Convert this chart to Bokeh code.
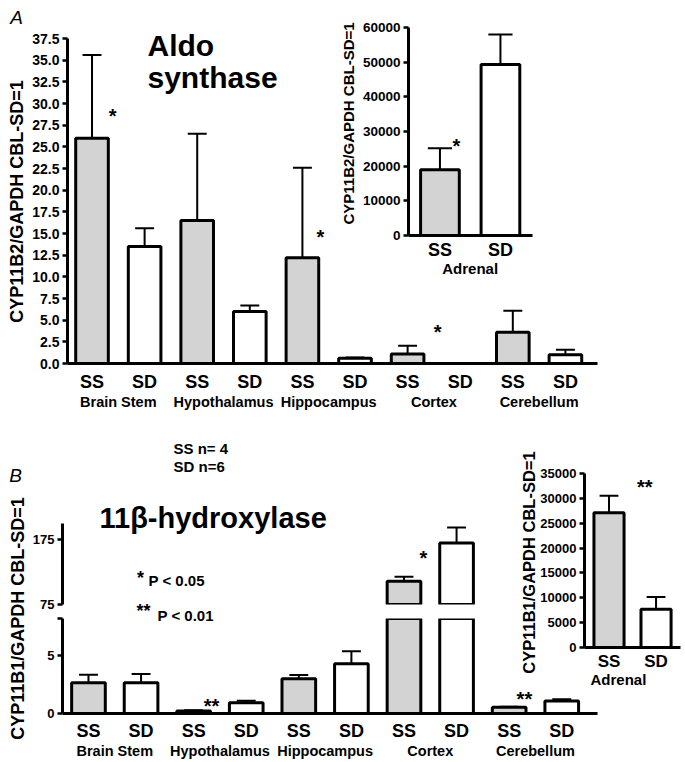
import math
from bokeh.plotting import figure
from bokeh.layouts import column
from bokeh.models import (Range1d, LinearAxis, FixedTicker, Label, ColumnDataSource,
                          NumeralTickFormatter, CDSView, BooleanFilter)
from bokeh.embed import file_html
from bokeh.resources import INLINE

FONT = "Liberation Sans"

# ---------------- data ----------------
regions = ["Brain Stem", "Hypothalamus", "Hippocampus", "Cortex", "Cerebellum"]
strains = ["SS", "SD"]

# Panel A: CYP11B2 (aldosterone synthase), order SS,SD per region
aldo_mean = [26.0, 13.5, 16.5, 6.0, 12.2, 0.6, 1.1, 0.0, 3.6, 1.0]
aldo_sem = [9.6, 2.1, 10.0, 0.7, 10.4, 0.1, 0.95, 0.0, 2.5, 0.6]
aldo_adrenal_mean = [19000, 49300]
aldo_adrenal_sem = [6200, 8700]

# Panel B: CYP11B1 (11beta-hydroxylase)
hyd_mean = [2.65, 2.65, 0.22, 0.92, 3.0, 4.3, 111, 170, 0.53, 1.07]
hyd_sem = [0.7, 0.75, 0.06, 0.17, 0.33, 1.07, 7, 24, 0.06, 0.17]
hyd_adrenal_mean = [27100, 7700]
hyd_adrenal_sem = [3400, 2450]

aldo_ticks = [0, 2.5, 5, 7.5, 10, 12.5, 15, 17.5, 20, 22.5, 25, 27.5, 30, 32.5, 35, 37.5]
aldo_adrenal_ticks = [0, 10000, 20000, 30000, 40000, 50000, 60000]
hyd_low_ticks = [0, 5]
hyd_high_ticks = [75, 175]
hyd_adrenal_ticks = [0, 5000, 10000, 15000, 20000, 25000, 30000, 35000]
hyd_break = (8.2, 75)   # lower segment ends at 8.2, upper segment starts at 75

# significance marks: (text, x in bar units, y of mark centre in data units)
aldo_marks = [("*", 0.39, 29.1), ("*", 4.34, 15.1), ("*", 6.57, 4.1)]
aldo_adrenal_marks = [("*", 0.27, 27100)]
hyd_low_marks = [("**", 2.34, 1.07), ("**", 8.29, 1.67)]
hyd_high_marks = [("*", 6.37, 153.7)]
hyd_adrenal_marks = [("**", 0.76, 33080)]

SS_FILL = "#d3d3d3"
SD_FILL = "#ffffff"


# ---------------- helpers ----------------
def make_fig(width, height, xr, yr, left, right, top, bottom, x_axis=True, y_axis=True):
    p = figure(width=width, height=height, x_range=xr, y_range=yr,
               output_backend="svg", toolbar_location=None,
               min_border_left=left, min_border_right=right,
               min_border_top=top, min_border_bottom=bottom,
               x_axis_location="below" if x_axis else None,
               y_axis_location="left" if y_axis else None)
    p.frame_align = False
    p.background_fill_color = None
    p.border_fill_color = None
    p.outline_line_color = None
    p.grid.visible = False
    return p


def style_y(p, ticks, size, bounds, fmt=None, overrides=None):
    ax = p.yaxis[0]
    ax.ticker = FixedTicker(ticks=ticks)
    ax.bounds = bounds
    ax.axis_line_width = 3
    ax.major_tick_line_width = 2.5
    ax.major_tick_out = 5
    ax.major_tick_in = 0
    ax.minor_tick_line_color = None
    ax.major_label_standoff = 3
    ax.major_label_text_font = FONT
    ax.major_label_text_font_style = "bold"
    ax.major_label_text_font_size = size
    ax.major_label_text_color = "black"
    if fmt:
        ax.formatter = NumeralTickFormatter(format=fmt)
    if overrides:
        ax.major_label_overrides = overrides


def style_x(p, labels, gticks, glabels, size1, size2, st1, st2):
    ticks = list(range(len(labels)))
    ax = p.xaxis[0]
    ax.ticker = FixedTicker(ticks=ticks)
    ax.major_label_overrides = dict(zip(ticks, labels))
    ax.axis_line_width = 3
    ax.major_tick_line_color = None
    ax.minor_tick_line_color = None
    ax.major_tick_out = 0
    ax.major_tick_in = 0
    ax.major_label_standoff = st1
    ax.major_label_text_font = FONT
    ax.major_label_text_font_style = "bold"
    ax.major_label_text_font_size = size1
    ax.major_label_text_color = "black"
    g = LinearAxis(ticker=FixedTicker(ticks=gticks),
                   major_label_overrides=dict(zip(gticks, glabels)),
                   axis_line_color=None, major_tick_line_color=None,
                   minor_tick_line_color=None, major_tick_out=0, major_tick_in=0,
                   major_label_standoff=st2, major_label_text_font=FONT,
                   major_label_text_font_style="bold", major_label_text_font_size=size2,
                   major_label_text_color="black")
    p.add_layout(g, "below")


def draw_bars(p, means, sems, width, cap, keep=None):
    xs = list(range(len(means)))
    colors = [SS_FILL if i % 2 == 0 else SD_FILL for i in xs]
    ups = [m + s for m, s in zip(means, sems)]
    src = ColumnDataSource(dict(x=xs, top=means, up=ups, color=colors,
                                xl=[x - cap for x in xs], xr=[x + cap for x in xs]))
    kw = {}
    if keep is not None:
        kw["view"] = CDSView(filter=BooleanFilter(keep))
    p.segment(x0="x", y0="top", x1="x", y1="up", source=src, line_color="black", line_width=2, **kw)
    p.segment(x0="xl", y0="up", x1="xr", y1="up", source=src, line_color="black", line_width=2, **kw)
    p.vbar(x="x", width=width, top="top", bottom=0, source=src,
           fill_color="color", line_color="black", line_width=3, **kw)


def marks(p, items, px_per_unit, size=20):
    # asterisk ink sits ~0.22 em above the text middle
    for txt_, x, yc in items:
        y = yc - 0.22 * size / px_per_unit
        p.add_layout(Label(x=x, y=y, text=txt_, text_font=FONT, text_font_style="bold",
                           text_font_size=f"{size}px", text_align="center",
                           text_baseline="middle", text_color="black"))


pair_labels = [strains[i % 2] for i in range(len(aldo_mean))]
group_ticks = [2 * i + 0.5 for i in range(len(regions))]

# ---------------- Panel A main ----------------
figA = make_fig(602, 404, Range1d(-0.466, 9.61), Range1d(0, 37.5), 59, 13, 30, 48)
draw_bars(figA, aldo_mean, aldo_sem, 0.62, 0.18)
style_y(figA, aldo_ticks, "14px", (0, 37.5), fmt="0.0")
style_x(figA, pair_labels, group_ticks, regions, "18px", "14.5px", 8, -1)
marks(figA, aldo_marks, 326 / 37.5)

# ---------------- Panel A inset ----------------
insA = make_fig(215, 270, Range1d(-0.52, 1.53), Range1d(0, 60000), 78, 13, 17, 45)
draw_bars(insA, aldo_adrenal_mean, aldo_adrenal_sem, 0.64, 0.2)
style_y(insA, aldo_adrenal_ticks, "13.5px", (0, 60000))
style_x(insA, strains, [0.5], ["Adrenal"], "18px", "15px", 4, -3)
marks(insA, aldo_adrenal_marks, 208 / 60000)

# ---------------- Panel B upper (above the axis break) ----------------
xrB = Range1d(-0.494, 9.68)
figBu = make_fig(602, 111, xrB, Range1d(hyd_break[1], 200), 54, 13, 18, 12, x_axis=False)
draw_bars(figBu, hyd_mean, hyd_sem, 0.64, 0.18, keep=[m > hyd_break[1] for m in hyd_mean])
style_y(figBu, hyd_high_ticks, "13px", (hyd_break[1], 200))
marks(figBu, hyd_high_marks, 81 / 125)

# ---------------- Panel B inset ----------------
insB = make_fig(180, 235, Range1d(-0.521, 1.52), Range1d(0, 35000), 79, 5, 18, 40)
draw_bars(insB, hyd_adrenal_mean, hyd_adrenal_sem, 0.64, 0.2)
style_y(insB, hyd_adrenal_ticks, "13px", (0, 35000))
style_x(insB, strains, [0.2], ["Adrenal"], "17px", "15px", 4, -3)
marks(insB, hyd_adrenal_marks, 177 / 35000)

# ---------------- Panel B lower (below the axis break) ----------------
figBl = make_fig(602, 350, xrB, Range1d(0, hyd_break[0]), 54, 13, 206, 49)
draw_bars(figBl, hyd_mean, hyd_sem, 0.64, 0.18)
style_y(figBl, hyd_low_ticks + [hyd_break[0]], "13px", (0, hyd_break[0]), overrides={hyd_break[0]: ""})
style_x(figBl, pair_labels, group_ticks, regions, "18px", "14.5px", 7, -1)
marks(figBl, hyd_low_marks, 95 / hyd_break[0])

# ---------------- text overlay (page coordinates) ----------------
ov = figure(width=685, height=762, x_range=Range1d(0, 685), y_range=Range1d(762, 0),
            output_backend="svg", toolbar_location=None, min_border=0,
            x_axis_location=None, y_axis_location=None, title=None)
ov.frame_align = False
ov.background_fill_color = None
ov.border_fill_color = None
ov.outline_line_color = None
ov.grid.visible = False


def txt(x, y, text, size, style="bold", align="left", angle=0.0):
    ov.add_layout(Label(x=x, y=y, text=text, text_font=FONT, text_font_style=style,
                        text_font_size=size, text_align=align, text_baseline="middle",
                        angle=angle, text_color="black"))


up = math.pi / 2
txt(16, 17, "A", "19px", style="italic", align="center")
txt(16, 201, "CYP11B2/GAPDH CBL-SD=1", "18px", align="center", angle=up)
txt(147, 45, "Aldo", "30px")
txt(147, 77, "synthase", "30px")
txt(348, 123, "CYP11B2/GAPDH CBL-SD=1", "15px", align="center", angle=up)
txt(15, 475, "B", "19px", style="italic", align="center")
txt(17, 618, "CYP11B1/GAPDH CBL-SD=1", "18px", align="center", angle=up)
txt(528, 562, "CYP11B1/GAPDH CBL-SD=1", "16.5px", align="center", angle=up)
txt(173, 447.5, "SS n= 4", "15px")
txt(173, 465.5, "SD n=6", "15px")
txt(99, 517.5, "11β-hydroxylase", "29px")
txt(140, 577.5, "*", "18px", align="center")
txt(148, 580, "P < 0.05", "15px")
txt(143, 610, "**", "18px", align="center")
txt(157, 615, "P < 0.01", "15px")

# ---------------- layout (overlapping placement, page coordinates) ----------------
placements = [(figA, 8, 8), (insA, 330, 10), (figBu, 8, 505), (insB, 505, 455),
              (figBl, 8, 412), (ov, 0, 0)]
cursor = 0
for f, left, top in placements:
    f.margin = (top - cursor, 0, 0, left)
    cursor = top + f.height

layout = column(*[pl[0] for pl in placements])
open("out.html", "w").write(file_html(layout, INLINE))
